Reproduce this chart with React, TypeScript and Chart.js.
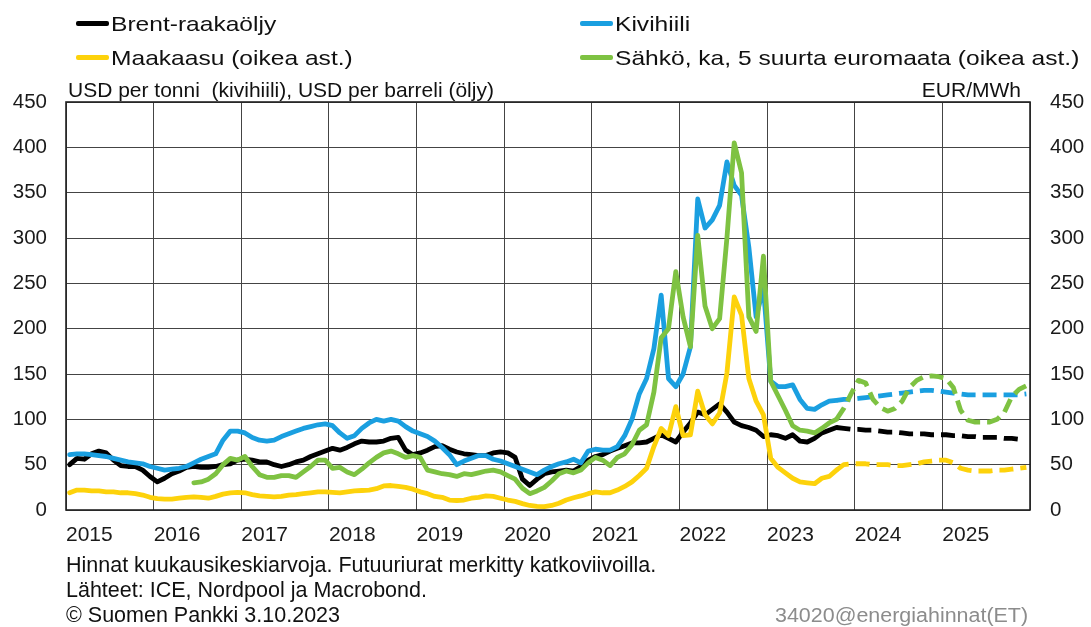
import React, { useEffect, useRef } from 'react';
import { Chart, registerables } from 'chart.js';

Chart.register(...registerables);

const FONT_FAMILY = "'Liberation Sans', Arial, Helvetica, sans-serif";

// x axis: months since Jan 2015 (0 = Jan 2015), points placed at mid-month
const yearLabels = ['2015', '2016', '2017', '2018', '2019', '2020', '2021', '2022', '2023', '2024', '2025'];
const futuresFirstMonth = 105; // Oct 2023 (shared with the last actual point)
const powerFirstMonth = 17; // Jun 2016

// Brent-raakaöljy, USD per barreli (left axis)
const brentActual = [
  50, 57, 56, 62, 65, 63, 55, 49, 48, 48, 44, 37,
  31, 35, 40, 43, 47, 48, 47, 47, 48, 50, 51, 55,
  56, 55, 53, 53, 50, 48, 50, 53, 55, 59, 62, 65,
  68, 66, 69, 73, 76, 75, 75, 76, 79, 80, 66, 61,
  63, 66, 70, 71, 67, 64, 62, 61, 60, 60, 63, 64,
  63, 58, 34, 27, 34, 40, 42, 43, 44, 43, 48, 55,
  59, 61, 65, 68, 71, 74, 74, 75, 79, 83, 79, 75,
  86, 96, 108, 105, 111, 117, 108, 97, 93, 91, 88, 81,
  83, 82, 79, 83, 76, 75, 79, 85, 88, 91,
];
const brentFutures = [
  91, 90, 89, 89, 88, 88, 87, 86, 86, 85, 84, 84, 84,
  83, 83, 83, 82, 82, 81, 81, 80, 80, 80, 79, 79, 78,
];

// Kivihiili, USD per tonni (left axis)
const coalActual = [
  61, 62, 62, 61, 60, 59, 57, 55, 53, 52, 51, 48,
  46, 44, 45, 46, 48, 52, 56, 59, 62, 77, 87, 87,
  85, 80, 77, 76, 77, 81, 84, 87, 90, 92, 94, 95,
  93, 85, 79, 82, 90, 96, 100, 98, 100, 98, 92, 87,
  84, 81, 76, 69, 61, 50, 54, 57, 60, 60, 56, 54,
  51, 48, 45, 42, 39, 44, 48, 51, 53, 56, 52, 65,
  67, 66, 66, 70, 82, 100, 128, 145, 178, 237, 145, 136,
  150, 180, 343, 311, 320, 336, 384, 358, 347, 290, 213, 245,
  142, 136, 136, 138, 122, 112, 111, 116, 120, 121,
];
const coalFutures = [
  121, 122, 122, 123, 124, 125, 126, 127, 128, 129, 130, 131, 132, 132,
  131, 130, 129, 128, 127, 127, 127, 127, 127, 127, 127, 127, 128,
];

// Maakaasu, EUR/MWh (right axis)
const gasActual = [
  19, 22, 22, 21, 21, 20, 20, 19, 19, 18, 16.5, 14,
  12.5, 12, 12, 13, 14, 14.5, 14, 13, 15, 17.5, 19, 19.5,
  19, 17, 15.5, 15, 14.5, 15, 16.5, 17, 18, 19, 20, 20,
  19.5, 19, 20, 21, 21.5, 22, 23.5, 26.5, 27, 26, 25, 23,
  20, 18, 15, 14, 11, 10.5, 11, 13, 14, 15.5, 15, 13,
  11, 9.5, 7, 5, 4, 3.7, 5, 7.5, 11, 13.5, 15.5, 18,
  20, 19, 19, 22, 26, 31, 38, 46, 70, 90, 82, 114,
  82, 83, 131, 105, 95, 107, 151, 235, 215, 145, 120, 105,
  57, 47, 41, 35, 31, 30, 29, 35, 37, 44,
];
const gasFutures = [
  44, 50, 51, 51, 51, 50, 50, 50, 49, 49, 50, 51, 53, 54,
  55, 55, 52, 46, 44, 43, 43, 43, 44, 44, 45, 46, 47,
];

// Sähkö, ka, 5 suurta euromaata, EUR/MWh (right axis)
const powerActual = [
  30, 31, 34, 40, 50, 57, 55,
  59, 48, 39, 36, 36, 38, 38, 36, 42, 48, 55, 55,
  46, 47, 42, 39, 45, 52, 58, 63, 65, 62, 58, 60,
  58, 44, 42, 40, 39, 37, 40, 39, 41, 43, 44, 42,
  38, 34, 24, 18, 21, 25, 32, 40, 43, 41, 44, 52,
  58, 55, 49, 58, 62, 72, 88, 94, 130, 190, 200, 263,
  213, 180, 303, 225, 200, 211, 300, 405, 372, 213, 197, 280,
  142, 126, 110, 93, 88, 87, 85, 90, 96, 100,
];
const powerFutures = [
  100, 112, 128, 143, 140, 122, 113, 109, 112, 120, 135, 143, 147, 148,
  147, 145, 135, 110, 99, 97, 97, 97, 100, 108, 125, 133, 137,
];

const COLORS = {
  brent: '#000000',
  coal: '#1a9fe0',
  gas: '#fdd20b',
  power: '#7ec242',
  grid: '#444444',
  text: '#1a1a1a',
};

function toPoints(values: number[], firstMonth: number) {
  return values.map((v, k) => ({ x: firstMonth + k + 0.5, y: v }));
}

const framePlugin = {
  id: 'frame',
  beforeDatasetsDraw(chart: any) {
    const { ctx, chartArea: a } = chart;
    ctx.save();
    ctx.strokeStyle = '#222';
    ctx.lineWidth = 1.6;
    ctx.strokeRect(a.left, a.top, a.right - a.left, a.bottom - a.top);
    ctx.restore();
  },
};

const DASH = [14, 7];

function Text(props: {
  text: string; left?: number; right?: number; capCenter: number; size: number;
  scaleX?: number; color?: string;
}) {
  const { text, left, right, capCenter, size, scaleX = 1, color = '#111' } = props;
  const style: React.CSSProperties = {
    position: 'absolute',
    top: capCenter - size * 0.49,
    fontSize: size,
    lineHeight: 1,
    whiteSpace: 'pre',
    color,
    transform: scaleX !== 1 ? `scaleX(${scaleX})` : undefined,
    transformOrigin: right !== undefined ? 'right center' : 'left center',
  };
  if (left !== undefined) style.left = left;
  if (right !== undefined) { style.right = right; style.textAlign = 'right'; }
  return <div style={style}>{text}</div>;
}

function LegendItem(props: { color: string; label: string; x: number; y: number }) {
  const { color, label, x, y } = props;
  return (
    <>
      <div style={{ position: 'absolute', left: x, top: y - 2.5, width: 33, height: 5, background: color, borderRadius: 2 }} />
      <Text text={label} left={x + 35} capCenter={y + 0.5} size={21} scaleX={1.17} />
    </>
  );
}

export default function App() {
  const canvasRef = useRef<HTMLCanvasElement | null>(null);

  useEffect(() => {
    const canvas = canvasRef.current;
    if (!canvas) return;
    const tickFont = { family: FONT_FAMILY, size: 20.5 };
    const chart = new Chart(canvas, {
      type: 'line',
      data: {
        datasets: [
          { label: 'Sähkö', data: toPoints(powerActual, powerFirstMonth), borderColor: COLORS.power, yAxisID: 'y2', order: 0 },
          { label: 'Sähkö futuurit', data: toPoints(powerFutures, futuresFirstMonth), borderColor: COLORS.power, borderDash: DASH, borderCapStyle: 'butt', yAxisID: 'y2', order: 0 },
          { label: 'Maakaasu', data: toPoints(gasActual, 0), borderColor: COLORS.gas, yAxisID: 'y2', order: 1 },
          { label: 'Maakaasu futuurit', data: toPoints(gasFutures, futuresFirstMonth), borderColor: COLORS.gas, borderDash: DASH, borderCapStyle: 'butt', yAxisID: 'y2', order: 1 },
          { label: 'Kivihiili', data: toPoints(coalActual, 0), borderColor: COLORS.coal, yAxisID: 'y', order: 2 },
          { label: 'Kivihiili futuurit', data: toPoints(coalFutures, futuresFirstMonth), borderColor: COLORS.coal, borderDash: DASH, borderCapStyle: 'butt', yAxisID: 'y', order: 2 },
          { label: 'Brent', data: toPoints(brentActual, 0), borderColor: COLORS.brent, yAxisID: 'y', order: 3 },
          { label: 'Brent futuurit', data: toPoints(brentFutures, futuresFirstMonth), borderColor: COLORS.brent, borderDash: DASH, borderCapStyle: 'butt', yAxisID: 'y', order: 3 },
        ] as any,
      },
      options: {
        animation: false,
        responsive: false,
        maintainAspectRatio: false,
        layout: { padding: { top: 102, left: 0, right: 0, bottom: 0 } },
        plugins: { legend: { display: false }, tooltip: { enabled: false }, title: { display: false } },
        elements: {
          point: { radius: 0 },
          line: { borderWidth: 4.8, tension: 0, borderJoinStyle: 'round', borderCapStyle: 'round', fill: false },
        },
        scales: {
          x: {
            type: 'linear',
            min: 0,
            max: yearLabels.length * 12,
            afterFit: (s: any) => { s.height = 117; },
            afterBuildTicks: (s: any) => {
              const t = yearLabels.map((_, k) => ({ value: k * 12 }));
              t.push({ value: yearLabels.length * 12 });
              s.ticks = t;
            },
            ticks: {
              autoSkip: false,
              maxRotation: 0,
              minRotation: 0,
              align: 'start',
              padding: 13,
              font: { family: FONT_FAMILY, size: 21 },
              color: COLORS.text,
              callback: (v: any) => {
                const k = Math.round(Number(v) / 12);
                return k < yearLabels.length ? yearLabels[k] : '';
              },
            },
            grid: { color: COLORS.grid, lineWidth: 1, drawTicks: false },
            border: { display: false },
          },
          y: {
            position: 'left',
            min: 0,
            max: 450,
            afterFit: (s: any) => { s.width = 66; },
            ticks: { stepSize: 50, padding: 19, font: tickFont, color: COLORS.text },
            grid: { color: COLORS.grid, lineWidth: 1, drawTicks: false },
            border: { display: false },
          },
          y2: {
            position: 'right',
            min: 0,
            max: 450,
            afterFit: (s: any) => { s.width = 61; },
            ticks: { stepSize: 50, padding: 20, font: tickFont, color: COLORS.text },
            grid: { drawOnChartArea: false, drawTicks: false },
            border: { display: false },
          },
        },
      } as any,
      plugins: [framePlugin],
    });
    return () => chart.destroy();
  }, []);

  return (
    <div style={{ position: 'absolute', left: 0, top: 0, width: 1091, height: 627, background: '#fff', overflow: 'hidden', fontFamily: FONT_FAMILY }}>
      <canvas ref={canvasRef} width={1091} height={627} style={{ position: 'absolute', left: 0, top: 0, width: 1091, height: 627 }} />
      <LegendItem color={COLORS.brent} label="Brent-raakaöljy" x={76} y={23} />
      <LegendItem color={COLORS.gas} label="Maakaasu (oikea ast.)" x={76} y={57} />
      <LegendItem color={COLORS.coal} label="Kivihiili" x={580} y={23} />
      <LegendItem color={COLORS.power} label="Sähkö, ka, 5 suurta euromaata (oikea ast.)" x={580} y={57} />
      <Text text="USD per tonni  (kivihiili), USD per barreli (öljy)" left={68} capCenter={89.5} size={21} />
      <Text text="EUR/MWh" right={1091 - 1021} capCenter={89.5} size={21} />
      <Text text="Hinnat kuukausikeskiarvoja. Futuuriurat merkitty katkoviivoilla." left={66} capCenter={566} size={21.5} />
      <Text text="Lähteet: ICE, Nordpool ja Macrobond." left={66} capCenter={591} size={21.5} />
      <Text text="© Suomen Pankki 3.10.2023" left={66} capCenter={616} size={21.5} />
      <Text text="34020@energiahinnat(ET)" right={1091 - 1028} capCenter={616} size={19.5} scaleX={1.1} color="#8c8c8c" />
    </div>
  );
}
